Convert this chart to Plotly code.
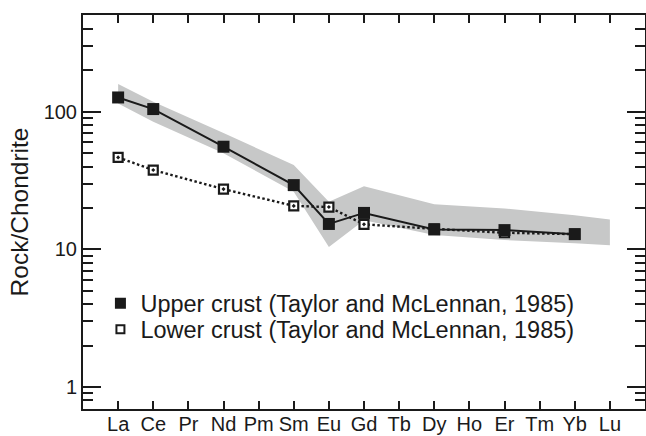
import plotly.graph_objects as go

elements = ["La", "Ce", "Pr", "Nd", "Pm", "Sm", "Eu", "Gd", "Tb", "Dy", "Ho", "Er", "Tm", "Yb", "Lu"]

# Upper crust (Taylor and McLennan, 1985), chondrite-normalised
upper_el = ["La", "Ce", "Nd", "Sm", "Eu", "Gd", "Dy", "Er", "Yb"]
upper_val = [127, 104.6, 55.7, 29.3, 15.3, 18.4, 13.95, 13.8, 12.9]

# Lower crust (Taylor and McLennan, 1985)
lower_el = ["La", "Ce", "Nd", "Sm", "Eu", "Gd", "Dy", "Er", "Yb"]
lower_val = [46.6, 37.7, 27.4, 20.7, 20.3, 15.2, 14.1, 13.2, 12.9]

# Grey envelope
band_el = ["La", "Ce", "Nd", "Sm", "Eu", "Gd", "Dy", "Er", "Yb", "Lu"]
band_top = [159, 118, 70, 41, 22.2, 28.8, 21.3, 19.8, 17.7, 16.5]
band_bot = [115, 84.5, 50, 26.2, 10.4, 16.3, 12.7, 11.7, 11.1, 10.7]

idx = {e: i for i, e in enumerate(elements)}
ux = [idx[e] for e in upper_el]
lx = [idx[e] for e in lower_el]
bx = [idx[e] for e in band_el]

INK = "#1a1a1a"
FONT = "Liberation Sans, Arial, sans-serif"

fig = go.Figure()

fig.add_trace(go.Scatter(
    x=bx + bx[::-1], y=band_top + band_bot[::-1],
    mode="lines", fill="toself", fillcolor="rgb(199,200,200)",
    line=dict(width=0, color="rgb(199,200,200)"), showlegend=False, hoverinfo="skip"))

fig.add_trace(go.Scatter(
    x=lx, y=lower_val, mode="lines",
    line=dict(color=INK, width=2.4, dash="2.5px,2.5px"), showlegend=False))
fig.add_trace(go.Scatter(
    x=ux, y=upper_val, mode="lines",
    line=dict(color=INK, width=2), showlegend=False))

fig.add_trace(go.Scatter(
    x=lx, y=lower_val, mode="markers",
    marker=dict(symbol="square-dot", size=9, color="white", line=dict(color=INK, width=2.2)),
    showlegend=False))
fig.add_trace(go.Scatter(
    x=ux, y=upper_val, mode="markers",
    marker=dict(symbol="square", size=12, color=INK, line=dict(width=0)),
    showlegend=False))

# legend entries
fig.add_trace(go.Scatter(
    x=[None], y=[None], mode="markers", name="Upper crust (Taylor and McLennan, 1985)",
    marker=dict(symbol="square", size=11, color=INK, line=dict(width=0)), legend="legend"))
fig.add_trace(go.Scatter(
    x=[None], y=[None], mode="markers", name="Lower crust (Taylor and McLennan, 1985)",
    marker=dict(symbol="square", size=8, color="white", line=dict(color=INK, width=2)), legend="legend2"))

leg_common = dict(xanchor="left", yanchor="middle", bgcolor="rgba(0,0,0,0)",
                  font=dict(size=23.5, color=INK, family=FONT), itemsizing="trace")

fig.update_layout(
    width=646, height=436,
    margin=dict(l=83, r=1, t=15, b=27),
    paper_bgcolor="white", plot_bgcolor="white",
    font=dict(family=FONT, size=20, color=INK),
    showlegend=True,
    legend=dict(x=0.031, y=0.268, **leg_common),
    legend2=dict(x=0.031, y=0.202, **leg_common),
    xaxis=dict(
        range=[-1, 15], tickmode="array", tickvals=list(range(len(elements))),
        ticktext=elements, ticks="inside", ticklen=8, tickwidth=1.5, tickcolor=INK,
        showline=True, linecolor=INK, linewidth=2, mirror="ticks",
        showgrid=False, zeroline=False, tickfont=dict(size=20, color=INK),
        automargin=False, ticklabelstandoff=-4),
    yaxis=dict(
        type="log", range=[-0.16, 2.703], tickmode="array",
        tickvals=[1, 10, 100], ticktext=["1", "10", "100"],
        ticks="inside", ticklen=18, tickwidth=1.5, tickcolor=INK,
        minor=dict(ticks="inside", ticklen=10, tickwidth=1.5, tickcolor=INK,
                   tickvals=[v * m for m in (0.1, 1, 10, 100) for v in range(2, 10)],
                   showgrid=False),
        showline=True, linecolor=INK, linewidth=2, mirror="ticks",
        showgrid=False, zeroline=False, tickfont=dict(size=20, color=INK),
        automargin=False,
        title=dict(text="Rock/Chondrite", font=dict(size=24.5, color=INK), standoff=8)),
)

fig.write_html(
    "out.html",
    config={"displayModeBar": False},
    post_script="document.body.style.margin='0';document.body.style.overflow='hidden';",
)
